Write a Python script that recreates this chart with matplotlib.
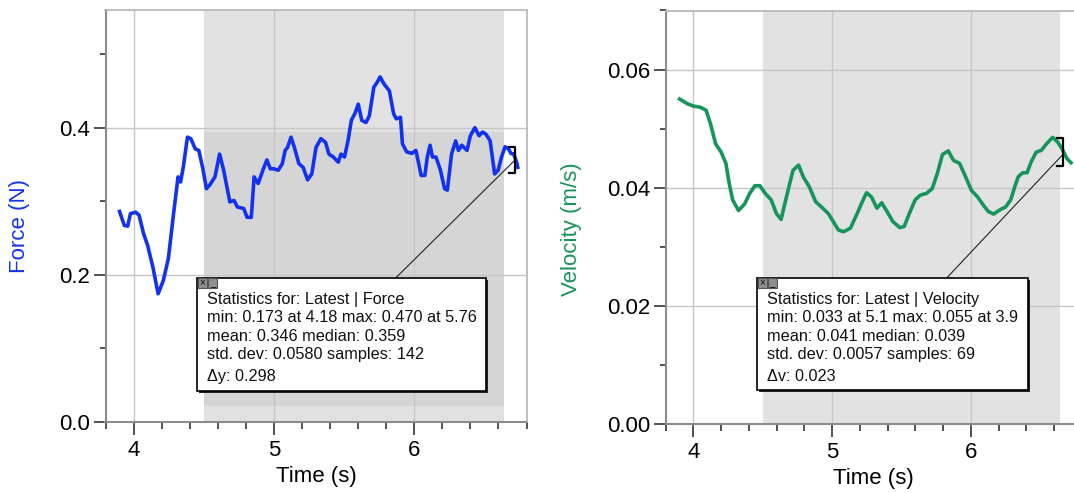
import numpy as np
import matplotlib
matplotlib.use("Agg")
import matplotlib.pyplot as plt
from matplotlib.patches import Rectangle
from matplotlib.lines import Line2D
from matplotlib.ticker import MultipleLocator, FormatStrFormatter

plt.rcParams['font.family'] = ['Liberation Sans', 'DejaVu Sans']

# force data
t_force = np.array([3.90, 3.934, 3.958, 3.978, 4.015, 4.039, 4.071, 4.10, 4.138, 4.175,
                    4.212, 4.248, 4.285, 4.317, 4.335, 4.354, 4.384, 4.408, 4.44, 4.465,
                    4.494, 4.519, 4.543, 4.58, 4.613, 4.642, 4.686, 4.716, 4.74, 4.785,
                    4.809, 4.839, 4.859, 4.888, 4.925, 4.95, 4.974, 4.999, 5.031, 5.06,
                    5.08, 5.097, 5.122, 5.146, 5.178, 5.208, 5.24, 5.27, 5.30, 5.335,
                    5.368, 5.392, 5.424, 5.459, 5.478, 5.503, 5.528, 5.552, 5.577, 5.601,
                    5.626, 5.656, 5.68, 5.712, 5.737, 5.757, 5.786, 5.823, 5.853, 5.872,
                    5.902, 5.916, 5.946, 5.983, 6.012, 6.032, 6.049, 6.076, 6.093, 6.113,
                    6.13, 6.155, 6.187, 6.216, 6.236, 6.266, 6.295, 6.315, 6.339, 6.376,
                    6.40, 6.432, 6.462, 6.487, 6.511, 6.541, 6.573, 6.598, 6.622, 6.647,
                    6.672, 6.689, 6.709, 6.733, 6.738])
force = np.array([0.286, 0.267, 0.266, 0.283, 0.285, 0.281, 0.256, 0.240, 0.210, 0.174,
                  0.192, 0.222, 0.283, 0.333, 0.326, 0.346, 0.387, 0.385, 0.371, 0.369,
                  0.344, 0.317, 0.322, 0.333, 0.364, 0.342, 0.299, 0.301, 0.292, 0.290,
                  0.278, 0.278, 0.333, 0.324, 0.344, 0.356, 0.344, 0.344, 0.342, 0.351,
                  0.369, 0.373, 0.387, 0.373, 0.351, 0.346, 0.329, 0.337, 0.373, 0.385,
                  0.380, 0.364, 0.360, 0.353, 0.364, 0.360, 0.382, 0.410, 0.419, 0.432,
                  0.410, 0.407, 0.416, 0.455, 0.462, 0.469, 0.459, 0.450, 0.419, 0.412,
                  0.414, 0.378, 0.367, 0.365, 0.369, 0.351, 0.335, 0.335, 0.360, 0.376,
                  0.360, 0.360, 0.342, 0.317, 0.315, 0.364, 0.382, 0.369, 0.376, 0.369,
                  0.389, 0.400, 0.389, 0.394, 0.391, 0.382, 0.337, 0.342, 0.360, 0.374,
                  0.371, 0.365, 0.364, 0.351, 0.346])

# velocity data
t_vel = np.array([3.90, 3.956, 4.0, 4.049, 4.091, 4.123, 4.16, 4.20, 4.234, 4.258,
                  4.283, 4.325, 4.369, 4.406, 4.443, 4.48, 4.517, 4.561, 4.598, 4.632,
                  4.677, 4.718, 4.758, 4.792, 4.836, 4.881, 4.923, 4.972, 5.009, 5.045,
                  5.082, 5.132, 5.181, 5.218, 5.248, 5.284, 5.323, 5.358, 5.397, 5.439,
                  5.488, 5.52, 5.557, 5.599, 5.636, 5.68, 5.722, 5.759, 5.796, 5.838,
                  5.875, 5.919, 5.963, 6.005, 6.049, 6.091, 6.128, 6.165, 6.209, 6.251,
                  6.288, 6.317, 6.342, 6.374, 6.406, 6.435, 6.472, 6.509, 6.546, 6.590,
                  6.627, 6.657, 6.694, 6.723])
velocity = np.array([0.0550, 0.0542, 0.0538, 0.0536, 0.0531, 0.0508, 0.0474, 0.0460, 0.0441, 0.0407,
                     0.0379, 0.0361, 0.0372, 0.0390, 0.0403, 0.0403, 0.0390, 0.0379, 0.0356, 0.0346,
                     0.0390, 0.0429, 0.0438, 0.0418, 0.0401, 0.0376, 0.0367, 0.0356, 0.0342, 0.0328,
                     0.0325, 0.0331, 0.0356, 0.0376, 0.0391, 0.0384, 0.0365, 0.0374, 0.0359, 0.0342,
                     0.0332, 0.0334, 0.0356, 0.0379, 0.0387, 0.0390, 0.0398, 0.0424, 0.0456, 0.0462,
                     0.0446, 0.0441, 0.0418, 0.0395, 0.0384, 0.0370, 0.0359, 0.0355, 0.0362, 0.0367,
                     0.0379, 0.0401, 0.0418, 0.0425, 0.0425, 0.0443, 0.0460, 0.0463, 0.0474, 0.0485,
                     0.0477, 0.0466, 0.0449, 0.0442])

force_stats = ["Statistics for: Latest | Force",
               "min: 0.173 at 4.18 max: 0.470 at 5.76",
               "mean: 0.346 median: 0.359",
               "std. dev: 0.0580 samples: 142",
               "\u0394y: 0.298"]
vel_stats = ["Statistics for: Latest | Velocity",
             "min: 0.033 at 5.1 max: 0.055 at 3.9",
             "mean: 0.041 median: 0.039",
             "std. dev: 0.0057 samples: 69",
             "\u0394v: 0.023"]

W, H = 1074, 493
fig = plt.figure(figsize=(W / 100, H / 100), dpi=100)


def px(x, y):
    # image pixel -> figure fraction
    return x / W, 1 - y / H


ax1 = fig.add_axes([105.5 / W, 1 - 421.7 / H, 421 / W, 411.7 / H])
ax2 = fig.add_axes([665.7 / W, 1 - 423.5 / H, 416 / W, 413 / H])

blue = '#1232ee'
green = '#15955a'


def style(ax, ymax, ymaj, ymin, fmt):
    ax.set_xlim(3.8, 6.8)
    ax.set_ylim(0, ymax)
    ax.xaxis.set_major_locator(MultipleLocator(1))
    ax.xaxis.set_minor_locator(MultipleLocator(0.2))
    ax.yaxis.set_major_locator(MultipleLocator(ymaj))
    ax.yaxis.set_minor_locator(MultipleLocator(ymin))
    ax.yaxis.set_major_formatter(FormatStrFormatter(fmt))
    ax.set_axisbelow(True)
    ax.grid(True, which='major', color='#c6c6c6', lw=1)
    ax.tick_params(which='major', length=9, width=1.2, color='#333333', labelsize=16, pad=2)
    ax.tick_params(which='minor', length=4.5, width=1.2, color='#333333')
    ax.tick_params(axis='x', which='major', pad=4)
    ax.tick_params(axis='x', which='minor', length=5)
    for s in ['left', 'bottom']:
        ax.spines[s].set_color('#8c8c8c')
        ax.spines[s].set_linewidth(1.5)
    for s in ['top', 'right']:
        ax.spines[s].set_color('#b4b4b4')
        ax.spines[s].set_linewidth(1.2)
    ax.set_xlabel("Time (s)", fontsize=16)


# left: force
ax1.axvspan(4.5, 6.643, color='#e2e2e2', lw=0, zorder=0.2)
ax1.fill_between([4.5, 6.643], 0.021, 0.394, color='#d5d5d5', lw=0, zorder=0.3)
ax1.plot(t_force, force, color=blue, lw=2.6, zorder=3)
style(ax1, 0.56, 0.2, 0.1, '%.1f')
ax1.set_ylabel("Force (N)", fontsize=16, color=blue)
ax1.yaxis.set_label_coords(-0.179, 0.476)
ax1.xaxis.set_label_coords(0.5, -0.108)

# right: velocity
ax2.axvspan(4.5, 6.64, color='#e2e2e2', lw=0, zorder=0.2)
ax2.plot(t_vel, velocity, color=green, lw=2.6, zorder=3)
style(ax2, 0.07, 0.02, 0.01, '%.2f')
ax2.spines['right'].set_visible(False)
ax2.set_ylabel("Velocity (m/s)", fontsize=16, color=green)
ax2.yaxis.set_label_coords(-0.2, 0.471)
ax2.xaxis.set_label_coords(0.5, -0.108)


def stats_box(left, right, top, bottom, lines, leader, bracket):
    x0, y0 = px(left, bottom)
    x1, y1 = px(right, top)
    # drop shadow
    sx, sy = px(left + 2, bottom + 2)
    fig.add_artist(Rectangle((sx, sy), x1 - x0, y1 - y0, transform=fig.transFigure,
                             facecolor='#222222', edgecolor='none', zorder=5))
    fig.add_artist(Rectangle((x0, y0), x1 - x0, y1 - y0, transform=fig.transFigure,
                             facecolor='white', edgecolor='black', lw=1.2, zorder=6))
    # close / minimise icons
    for i, sym in enumerate(['\u00d7', '_']):
        ix, iy = px(left + 1 + i * 10, top + 10)
        fig.add_artist(Rectangle((ix, iy), 9 / W, 10 / H, transform=fig.transFigure,
                                 facecolor='#8f8f8f', edgecolor='#555555', lw=0.8, zorder=7))
        cx, cy = px(left + 5.5 + i * 10, top + 5)
        fig.text(cx, cy, sym, fontsize=7, ha='center', va='center', color='black', zorder=8)
    ys = [299.3, 318.0, 336.5, 354.5, 376.7]
    for txt, yy in zip(lines, ys):
        tx, ty = px(left + 10, yy)
        fig.text(tx, ty, txt, fontsize=11.7, ha='left', va='center', color='#111111', zorder=8)
    # leader line
    (lx0, ly0), (lx1, ly1) = leader
    a, b = px(lx0, ly0)
    c, d = px(lx1, ly1)
    fig.add_artist(Line2D([a, c], [b, d], transform=fig.transFigure, color='#222222', lw=0.8, zorder=4))
    # bracket
    bx, btop, bbot = bracket
    xs = [bx - 6, bx, bx, bx - 6]
    yv = [btop, btop, bbot, bbot]
    pts = [px(u, v) for u, v in zip(xs, yv)]
    fig.add_artist(Line2D([p[0] for p in pts], [p[1] for p in pts], transform=fig.transFigure,
                          color='black', lw=1.6, zorder=4))


stats_box(197, 486, 277.7, 390.5, force_stats, ((396, 277.7), (515, 160)), (515, 146.7, 173.3))
stats_box(756.7, 1028.3, 277.7, 390.0, vel_stats, ((947, 277.7), (1063.3, 154)), (1063.3, 138.3, 165.7))

fig.savefig("out.png", dpi=100)
